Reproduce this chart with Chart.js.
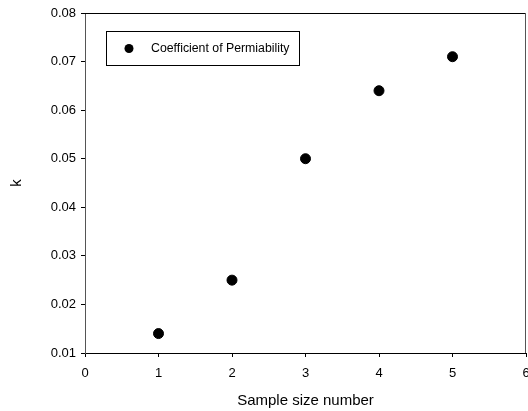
<!DOCTYPE html>
<html><head><meta charset="utf-8">
<script src="https://cdn.jsdelivr.net/npm/chart.js@4/dist/chart.umd.min.js"></script>
<style>html,body{margin:0;padding:0;background:#fff;overflow:hidden}#wrap{width:528px;height:411px;overflow:hidden}</style>
</head><body><div id="wrap"><canvas id="c" width="532" height="411"></canvas></div>
<script>
const sampleNumbers = [1, 2, 3, 4, 5];
const kValues = [0.014, 0.025, 0.050, 0.064, 0.071];
const seriesLabel = 'Coefficient of Permiability';
const xTitle = 'Sample size number';
const yTitle = 'k';

const FONT = 'Liberation Sans, Arial, sans-serif';

const frame = {
  id: 'frame',
  afterDraw(chart) {
    const {ctx, chartArea: a} = chart;
    ctx.save();
    ctx.lineWidth = 1;
    ctx.strokeStyle = '#000';
    ctx.beginPath(); ctx.moveTo(a.left, a.top + 0.5); ctx.lineTo(a.right, a.top + 0.5); ctx.stroke();
    ctx.strokeStyle = '#555';
    ctx.beginPath(); ctx.moveTo(a.right - 0.5, a.top); ctx.lineTo(a.right - 0.5, a.bottom); ctx.stroke();
    // legend box
    const lx = a.left + 21, ly = a.top + 18, lw = 193, lh = 34;
    ctx.strokeStyle = '#000';
    ctx.strokeRect(lx + 0.5, ly + 0.5, lw, lh);
    ctx.fillStyle = '#000';
    ctx.beginPath(); ctx.arc(lx + 23, ly + 17.5, 4.5, 0, Math.PI * 2); ctx.fill();
    ctx.font = '12.3px ' + FONT;
    ctx.textBaseline = 'middle';
    ctx.fillText(chart.data.datasets[0].label, lx + 45, ly + 17.5);
    ctx.restore();
  }
};

new Chart(document.getElementById('c'), {
  type: 'scatter',
  data: {
    datasets: [{
      label: seriesLabel,
      data: sampleNumbers.map((x, i) => ({x, y: kValues[i]})),
      backgroundColor: '#000', borderColor: '#000',
      pointRadius: 5, pointHoverRadius: 5
    }]
  },
  options: {
    responsive: false, animation: false,
    layout: {padding: {top: 13, right: 0, left: 0, bottom: 0}},
    plugins: {legend: {display: false}, tooltip: {enabled: false}},
    scales: {
      x: {
        type: 'linear', min: 0, max: 6,
        ticks: {stepSize: 1, color: '#000', font: {family: FONT, size: 13}, padding: 9},
        grid: {drawOnChartArea: false, tickLength: 4, color: '#000'},
        border: {display: true, color: '#000', width: 1},
        title: {display: true, text: xTitle, color: '#000', font: {family: FONT, size: 15}, padding: {top: 4, bottom: 1}},
        afterFit(s) { s.height = 58; s.paddingRight = 0; s.paddingLeft = 0; }
      },
      y: {
        type: 'linear', min: 0.01, max: 0.08,
        ticks: {stepSize: 0.01, color: '#000', font: {family: FONT, size: 13}, padding: 5,
          callback: v => v.toFixed(2)},
        grid: {drawOnChartArea: false, tickLength: 4, color: '#000'},
        border: {display: true, color: '#555', width: 1},
        title: {display: true, text: yTitle, color: '#000', font: {family: FONT, size: 15}, padding: {top: 8, bottom: 20}},
        afterFit(s) { s.width = 85; s.paddingTop = 0; s.paddingBottom = 0; }
      }
    }
  },
  plugins: [frame]
});
</script></body></html>
